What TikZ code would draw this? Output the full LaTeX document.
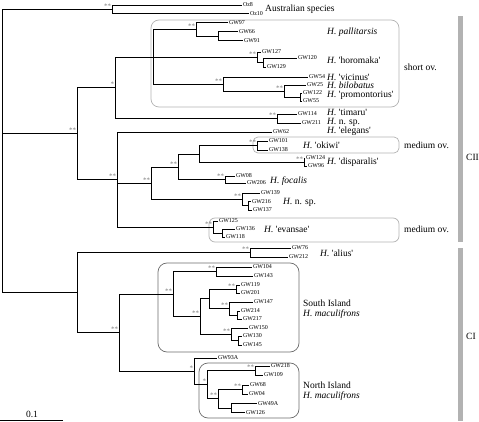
\documentclass[tikz,border=0pt]{standalone}
\usepackage{fontspec}
\setmainfont{Liberation Serif}
\usetikzlibrary{calc}

\tikzset{
  br/.style={black, line width=0.75pt},
  tip/.style={anchor=west, inner sep=0.8pt, font=\fontsize{6}{6.5}\selectfont},
  boot/.style={anchor=south east, inner sep=0.6pt, text=gray, font=\fontsize{7}{7}\selectfont},
  spec/.style={anchor=west, inner sep=0pt, font=\fontsize{9.5}{10.5}\selectfont},
  ovbox/.style={draw=gray!60, line width=0.7pt, rounded corners=8pt},
  islbox/.style={draw=gray!85!black, line width=0.7pt, rounded corners=9pt},
  clbar/.style={fill=gray!60, draw=none}
}
\newcommand{\qq}{\textquotesingle}

\begin{document}
\begin{tikzpicture}[x=1pt,y=-1pt]
\useasboundingbox (0,0) rectangle (479,422);

% boxes
\draw[ovbox] (151,20) rectangle (399,107);
\draw[ovbox,rounded corners=5pt] (253,137) rectangle (399,153);
\draw[ovbox,rounded corners=6pt] (209,218) rectangle (399,242);
\draw[islbox] (158,263) rectangle (299,352);
\draw[islbox] (199,363) rectangle (299,418);
\fill[clbar] (458,16) rectangle (463,242);
\fill[clbar] (458,248) rectangle (463,421);

% internal nodes
\coordinate (root) at (2,133.5);
\coordinate (oz) at (112,9.25);
\coordinate (cii) at (77,133.5);
\coordinate (na) at (115,87.5);
\coordinate (sb) at (153,57);
\coordinate (g97) at (196,29);
\coordinate (g66) at (218,36);
\coordinate (ho) at (257,57);
\coordinate (g120) at (263,62.5);
\coordinate (vi) at (223,84);
\coordinate (bi) at (284,91);
\coordinate (g122) at (300,97);
\coordinate (ti) at (277,118.5);
\coordinate (nc) at (117,179.5);
\coordinate (nd) at (151,183);
\coordinate (ne) at (178,167);
\coordinate (nf) at (199,154);
\coordinate (ok) at (257,145.5);
\coordinate (di) at (304,162);
\coordinate (fo) at (225,179.5);
\coordinate (ng) at (242,199.4);
\coordinate (nh) at (248,205.75);
\coordinate (ev) at (213,227);
\coordinate (nj) at (222,233);
\coordinate (ci) at (77,292.75);
\coordinate (al) at (250,252.5);
\coordinate (nk) at (119,332.75);
\coordinate (nl) at (173,294);
\coordinate (g104) at (216,271.5);
\coordinate (nn) at (200,316.5);
\coordinate (no) at (209,298.75);
\coordinate (g119) at (236,289);
\coordinate (nq) at (229,308.5);
\coordinate (np) at (237,315);
\coordinate (nr) at (231,334.25);
\coordinate (ns) at (238,340.5);
\coordinate (nm) at (194,371.4);
\coordinate (nt) at (207,384.6);
\coordinate (nv) at (255,370.5);
\coordinate (nu) at (218,398.75);
\coordinate (g68) at (242,389.5);
\coordinate (g49) at (231,408);

% tips
\node[tip] (oz8) at (242,5) {Oz8};
\node[tip] (oz10) at (249,13.5) {Oz10};
\node[tip] (gw97) at (228,22.7) {GW97};
\node[tip] (gw66) at (238,31.5) {GW66};
\node[tip] (gw91) at (243,40.5) {GW91};
\node[tip] (gw127) at (261,52) {GW127};
\node[tip] (gw120) at (297,58) {GW120};
\node[tip] (gw129) at (266,67) {GW129};
\node[tip] (gw54) at (308,77) {GW54};
\node[tip] (gw25) at (306,85) {GW25};
\node[tip] (gw122) at (302,93) {GW122};
\node[tip] (gw55) at (302,101) {GW55};
\node[tip] (gw114) at (297,114) {GW114};
\node[tip] (gw211) at (301,123) {GW211};
\node[tip] (gw62) at (272,132) {GW62};
\node[tip] (gw101) at (268,141) {GW101};
\node[tip] (gw138) at (268,150) {GW138};
\node[tip] (gw124) at (305,158) {GW124};
\node[tip] (gw96) at (307,166) {GW96};
\node[tip] (gw08) at (235,176) {GW08};
\node[tip] (gw206) at (246,183) {GW206};
\node[tip] (gw139) at (260,193) {GW139};
\node[tip] (gw216) at (251,201.5) {GW216};
\node[tip] (gw137) at (252,210) {GW137};
\node[tip] (gw125) at (218,221) {GW125};
\node[tip] (gw136) at (235,229) {GW136};
\node[tip] (gw118) at (225,237) {GW118};
\node[tip] (gw76) at (291,248) {GW76};
\node[tip] (gw212) at (288,257) {GW212};
\node[tip] (gw104) at (252,267) {GW104};
\node[tip] (gw143) at (253,276) {GW143};
\node[tip] (gw119) at (240,285) {GW119};
\node[tip] (gw201) at (240,293) {GW201};
\node[tip] (gw147) at (253,302) {GW147};
\node[tip] (gw214) at (240,311) {GW214};
\node[tip] (gw217) at (242,319) {GW217};
\node[tip] (gw150) at (248,328) {GW150};
\node[tip] (gw130) at (242,336) {GW130};
\node[tip] (gw145) at (242,345) {GW145};
\node[tip] (gw93a) at (217,358) {GW93A};
\node[tip] (gw218) at (270,366) {GW218};
\node[tip] (gw109) at (263,375) {GW109};
\node[tip] (gw68) at (249,385) {GW68};
\node[tip] (gw04) at (248,394) {GW04};
\node[tip] (gw49a) at (257,403.5) {GW49A};
\node[tip] (gw126) at (245,412.5) {GW126};

% branches
\draw[br] (root) |- (oz) (root) |- (cii) (root) |- (ci);
\draw[br] (oz) |- (oz8.west) (oz) |- (oz10.west);
\draw[br] (cii) |- (na) (cii) |- (nc);
\draw[br] (na) |- (sb) (na) |- (ti);
\draw[br] (sb) |- (g97) (sb) |- (ho) (sb) |- (vi);
\draw[br] (g97) |- (gw97.west) (g97) |- (g66);
\draw[br] (g66) |- (gw66.west) (g66) |- (gw91.west);
\draw[br] (ho) |- (gw127.west) (ho) |- (g120);
\draw[br] (g120) |- (gw120.west) (g120) |- (gw129.west);
\draw[br] (vi) |- (gw54.west) (vi) |- (bi);
\draw[br] (bi) |- (gw25.west) (bi) |- (g122);
\draw[br] (g122) |- (gw122.west) (g122) |- (gw55.west);
\draw[br] (ti) |- (gw114.west) (ti) |- (gw211.west);
\draw[br] (nc) |- (gw62.west) (nc) |- (nd) (nc) |- (ev);
\draw[br] (nd) |- (ne) (nd) |- (ng);
\draw[br] (ne) |- (nf) (ne) |- (fo);
\draw[br] (nf) |- (ok) (nf) |- (di);
\draw[br] (ok) |- (gw101.west) (ok) |- (gw138.west);
\draw[br] (di) |- (gw124.west) (di) |- (gw96.west);
\draw[br] (fo) |- (gw08.west) (fo) |- (gw206.west);
\draw[br] (ng) |- (gw139.west) (ng) |- (nh);
\draw[br] (nh) |- (gw216.west) (nh) |- (gw137.west);
\draw[br] (ev) |- (gw125.west) (ev) |- (nj);
\draw[br] (nj) |- (gw136.west) (nj) |- (gw118.west);
\draw[br] (ci) |- (al) (ci) |- (nk);
\draw[br] (al) |- (gw76.west) (al) |- (gw212.west);
\draw[br] (nk) |- (nl) (nk) |- (nm);
\draw[br] (nl) |- (g104) (nl) |- (nn);
\draw[br] (g104) |- (gw104.west) (g104) |- (gw143.west);
\draw[br] (nn) |- (no) (nn) |- (nr);
\draw[br] (no) |- (g119) (no) |- (nq);
\draw[br] (g119) |- (gw119.west) (g119) |- (gw201.west);
\draw[br] (nq) |- (gw147.west) (nq) |- (np);
\draw[br] (np) |- (gw214.west) (np) |- (gw217.west);
\draw[br] (nr) |- (gw150.west) (nr) |- (ns);
\draw[br] (ns) |- (gw130.west) (ns) |- (gw145.west);
\draw[br] (nm) |- (gw93a.west) (nm) |- (nt);
\draw[br] (nt) |- (nv) (nt) |- (nu);
\draw[br] (nv) |- (gw218.west) (nv) |- (gw109.west);
\draw[br] (nu) |- (g68) (nu) |- (g49);
\draw[br] (g68) |- (gw68.west) (g68) |- (gw04.west);
\draw[br] (g49) |- (gw49a.west) (g49) |- (gw126.west);

% support values
\foreach \n in {oz,cii,nc,g97,ho,vi,bi,ti,nd,ne,ok,di,fo,ng,ev,al,nk,nl,g104,nn,g119,nq,nr,nv,nu,g68}
  \node[boot] at (\n) {**};
\foreach \n in {na,nm,nt}
  \node[boot] at (\n) {*};

% names
\node[spec] (aus) at (265,9) {Australian species};
\node[spec] (pal) at (327,32) {\textit{H. pallitarsis}};
\node[spec] (hor) at (327,60) {\textit{H.} \qq horomaka\qq};
\node[spec] (vic) at (327,77) {\textit{H.} \qq vicinus\qq};
\node[spec] (bil) at (327,85.5) {\textit{H. bilobatus}};
\node[spec] (pro) at (327,95) {\textit{H.} \qq promontorius\qq};
\node[spec] (tim) at (327,112.5) {\textit{H.} \qq timaru\qq};
\node[spec] (nsp) at (327,122) {\textit{H.} n. sp.};
\node[spec] (ele) at (327,131.5) {\textit{H.} \qq elegans\qq};
\node[spec] (oki) at (303,145) {\textit{H.} \qq okiwi\qq};
\node[spec] (dis) at (327,162) {\textit{H.} \qq disparalis\qq};
\node[spec] (foc) at (270,181) {\textit{H. focalis}};
\node[spec] (nsp2) at (283,202) {\textit{H.} n. sp.};
\node[spec] (eva) at (264,229) {\textit{H.} \qq evansae\qq};
\node[spec] (ali) at (320,253) {\textit{H.} \qq alius\qq};
\node[spec, align=left] (sth) at (303,309) {South Island\\\textit{H. maculifrons}};
\node[spec, align=left] (nth) at (303,391) {North Island\\\textit{H. maculifrons}};
\node[spec] (sov) at (404,67) {short ov.};
\node[spec] (mov1) at (404,145) {medium ov.};
\node[spec] (mov2) at (404,229) {medium ov.};
\node[spec] (c2) at (466,157) {CII};
\node[spec] (c1) at (466,336) {CI};

% scale
\node[spec, anchor=south] (sc) at (32,418) {0.1};
\draw[br] (0,420) -- (63,420);
\end{tikzpicture}
\end{document}
